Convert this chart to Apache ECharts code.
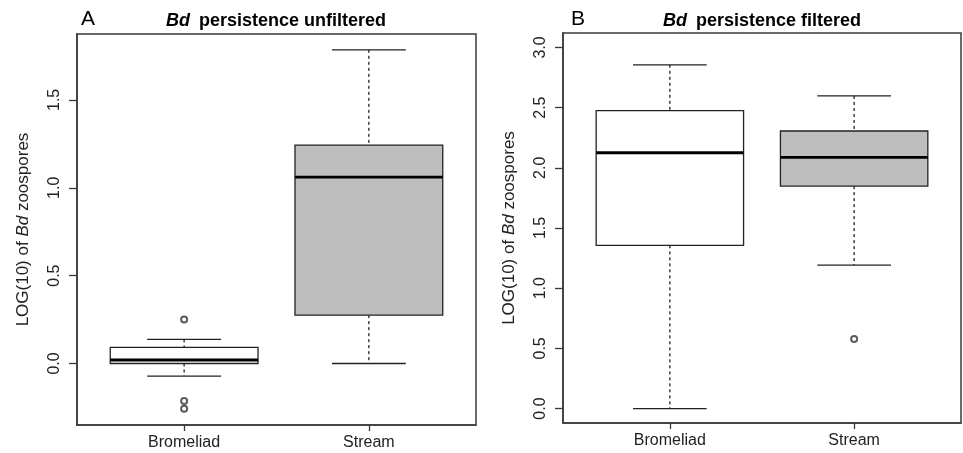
<!DOCTYPE html>
<html>
<head>
<meta charset="utf-8">
<script src="https://cdn.jsdelivr.net/npm/echarts@6/dist/echarts.min.js"></script>
<style>html,body{margin:0;padding:0;background:#fff;}#c{width:963px;height:453px;}</style>
</head>
<body>
<div id="c"></div>
<script>
// ---- data ----
const categories = ['Bromeliad', 'Stream'];
// [lower whisker, Q1, median, Q3, upper whisker]
const unfilteredStats = [
  [-0.072, 0.000, 0.020, 0.092, 0.137],
  [0.000, 0.275, 1.060, 1.243, 1.785]
];
const unfilteredOutliers = [[0.250, -0.213, -0.258], []];
const filteredStats = [
  [0.000, 1.356, 2.125, 2.475, 2.856],
  [1.192, 1.848, 2.087, 2.306, 2.597]
];
const filteredOutliers = [[], [0.578]];
const boxFills = ['#ffffff', '#bebebe'];
const yTicksA = [0, 0.5, 1.0, 1.5];
const yTicksB = [0, 0.5, 1.0, 1.5, 2.0, 2.5, 3.0];

const FONT = '"Liberation Sans", Arial, sans-serif';
const INK = '#222';

function boxData(stats) {
  return stats.map((s, i) => [i + 1].concat(s));
}
function outlierData(outs) {
  const d = [];
  outs.forEach((arr, i) => arr.forEach(v => d.push([i + 1, v])));
  return d;
}

function renderBox(params, api) {
  const x = api.value(0);
  const lo = api.value(1), q1 = api.value(2), med = api.value(3), q3 = api.value(4), hi = api.value(5);
  const halfBox = 0.4, halfCap = 0.2;
  const tl = api.coord([x - halfBox, q3]);
  const br = api.coord([x + halfBox, q1]);
  const cL = api.coord([x - halfCap, hi]);
  const cR = api.coord([x + halfCap, hi]);
  const lL = api.coord([x - halfCap, lo]);
  const lR = api.coord([x + halfCap, lo]);
  const cHi = api.coord([x, hi]);
  const cQ3 = api.coord([x, q3]);
  const cQ1 = api.coord([x, q1]);
  const cLo = api.coord([x, lo]);
  const mL = api.coord([x - halfBox, med]);
  const mR = api.coord([x + halfBox, med]);
  const fill = boxFills[params.dataIndex];
  const lineStyle = { stroke: INK, lineWidth: 1.3, fill: null };
  const dashStyle = { stroke: INK, lineWidth: 1.3, lineDash: [3, 3], fill: null };
  return {
    type: 'group',
    children: [
      { type: 'line', shape: { x1: cHi[0], y1: cHi[1], x2: cQ3[0], y2: cQ3[1] }, style: dashStyle },
      { type: 'line', shape: { x1: cQ1[0], y1: cQ1[1], x2: cLo[0], y2: cLo[1] }, style: dashStyle },
      { type: 'line', shape: { x1: cL[0], y1: cL[1], x2: cR[0], y2: cR[1] }, style: lineStyle },
      { type: 'line', shape: { x1: lL[0], y1: lL[1], x2: lR[0], y2: lR[1] }, style: lineStyle },
      { type: 'rect', shape: { x: tl[0], y: tl[1], width: br[0] - tl[0], height: br[1] - tl[1] },
        style: { fill: fill, stroke: INK, lineWidth: 1.3 } },
      { type: 'line', shape: { x1: mL[0], y1: mL[1], x2: mR[0], y2: mR[1] }, style: { stroke: '#000', lineWidth: 2.8 } }
    ]
  };
}

function xAxisCfg(gridIndex) {
  return {
    type: 'value', gridIndex: gridIndex, min: 0.42, max: 2.58,
    splitLine: { show: false },
    axisLine: { show: true, onZero: false, lineStyle: { color: '#3a3a3a', width: 1.5 } },
    axisTick: { show: true, customValues: [1, 2], length: 6, lineStyle: { color: '#3a3a3a', width: 1.3 } },
    axisLabel: { customValues: [1, 2], formatter: v => categories[Math.round(v) - 1] || '',
      color: INK, fontSize: 16, fontFamily: FONT, margin: 10 }
  };
}
function yAxisCfg(gridIndex, min, max, ticks) {
  return {
    type: 'value', gridIndex: gridIndex, min: min, max: max,
    splitLine: { show: false },
    axisLine: { show: true, onZero: false, lineStyle: { color: '#3a3a3a', width: 1.5 } },
    axisTick: { show: true, customValues: ticks, length: 8, lineStyle: { color: '#3a3a3a', width: 1.3 } },
    axisLabel: { customValues: ticks, formatter: v => v.toFixed(1), rotate: 90,
      color: INK, fontSize: 16, fontFamily: FONT, margin: 14 },
    name: 'LOG(10) of {i|Bd} zoospores',
    nameLocation: 'middle', nameRotate: 90, nameGap: 45,
    nameTextStyle: { color: INK, fontSize: 17, fontFamily: FONT,
      rich: { i: { fontStyle: 'italic', fontSize: 17, fontFamily: FONT, color: INK } } }
  };
}

const titleRich = { bi: { fontStyle: 'italic', fontWeight: 'bold', fontSize: 18, fontFamily: FONT, color: '#000', padding: [0, 4, 0, 0] } };

const option = {
  backgroundColor: '#fff',
  animation: false,
  title: [
    { text: 'A', left: 81, top: 9, padding: 0, textStyle: { fontSize: 21, fontWeight: 'normal', fontFamily: FONT, color: '#000' } },
    { text: 'B', left: 571, top: 9, padding: 0, textStyle: { fontSize: 21, fontWeight: 'normal', fontFamily: FONT, color: '#000' } },
    { text: '{bi|Bd} persistence unfiltered', left: 276, top: 12, padding: 0, textAlign: 'center',
      textStyle: { fontSize: 18, fontWeight: 'bold', fontFamily: FONT, color: '#000', rich: titleRich } },
    { text: '{bi|Bd} persistence filtered', left: 762, top: 12, padding: 0, textAlign: 'center',
      textStyle: { fontSize: 18, fontWeight: 'bold', fontFamily: FONT, color: '#000', rich: titleRich } }
  ],
  grid: [
    { left: 77, top: 34, width: 399, height: 391, show: true, borderColor: '#3a3a3a', borderWidth: 1.5, backgroundColor: 'transparent' },
    { left: 563, top: 33, width: 398, height: 390, show: true, borderColor: '#3a3a3a', borderWidth: 1.5, backgroundColor: 'transparent' }
  ],
  xAxis: [xAxisCfg(0), xAxisCfg(1)],
  yAxis: [yAxisCfg(0, -0.35, 1.875, yTicksA), yAxisCfg(1, -0.12, 3.12, yTicksB)],
  series: [
    { type: 'custom', xAxisIndex: 0, yAxisIndex: 0, renderItem: renderBox, data: boxData(unfilteredStats), encode: { x: 0, y: [1, 2, 3, 4, 5] } },
    { type: 'scatter', xAxisIndex: 0, yAxisIndex: 0, data: outlierData(unfilteredOutliers), symbol: 'emptyCircle', symbolSize: 6, z: 5,
      itemStyle: { color: '#333', borderColor: '#333', borderWidth: 1 } },
    { type: 'custom', xAxisIndex: 1, yAxisIndex: 1, renderItem: renderBox, data: boxData(filteredStats), encode: { x: 0, y: [1, 2, 3, 4, 5] } },
    { type: 'scatter', xAxisIndex: 1, yAxisIndex: 1, data: outlierData(filteredOutliers), symbol: 'emptyCircle', symbolSize: 6, z: 5,
      itemStyle: { color: '#333', borderColor: '#333', borderWidth: 1 } }
  ]
};
const chart = echarts.init(document.getElementById('c'), null, { renderer: 'canvas' });
chart.setOption(option);
</script>
</body>
</html>
